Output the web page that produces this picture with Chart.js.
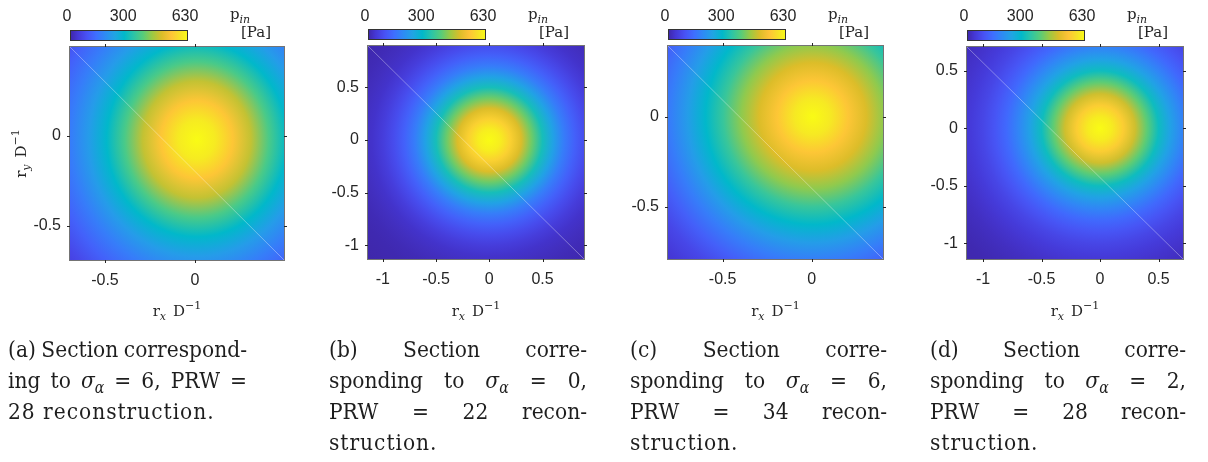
<!DOCTYPE html>
<html>
<head>
<meta charset="utf-8">
<script src="https://cdn.jsdelivr.net/npm/chart.js@4.4.0/dist/chart.umd.min.js"></script>
<style>
  body { margin: 0; background: #fff; width: 1208px; height: 462px; position: relative; overflow: hidden; }
  canvas { position: absolute; top: 0; }
</style>
</head>
<body>
<script>
// colour scale of the inlet pressure [Pa]
const pMax = 630;
const cbTicks = [0, 300, 630];

// radial distance from the jet centre, r / D
const radii = [0, 0.1, 0.2, 0.3, 0.4, 0.5, 0.6, 0.7, 0.8, 0.9, 1.0, 1.1, 1.2, 1.3, 1.4, 1.5, 1.6, 1.7];

// inlet pressure along the radius for each reconstruction [Pa]
const pA = [630, 604, 545, 470, 375, 290, 222, 165, 115, 72, 42, 26, 16, 10, 6, 4, 2, 1];
const pB = [630, 608, 560, 490, 405, 315, 235, 165, 115, 78, 50, 31, 20, 12, 7, 4, 2, 1];
const pC = [630, 600, 545, 490, 430, 355, 290, 225, 165, 112, 70, 44, 28, 17, 10, 6, 3, 2];
const pD = [630, 605, 555, 480, 395, 305, 235, 178, 130, 95, 68, 48, 33, 22, 14, 8, 4, 2];

// pressure peak position (r_x, r_y) / D and vertical elongation of the spot
const centreA = [0.01, -0.02], stretchA = 1.08;
const centreB = [0, 0],        stretchB = 1;
const centreC = [0.005, 0],    stretchC = 1;
const centreD = [0, 0],        stretchD = 1;

// axis limits
const xRangeA = [-0.694, 0.494], yRangeA = [-0.689, 0.494];
const xRangeB = [-1.14, 0.89],   yRangeB = [-1.13, 0.893];
const xRangeC = [-0.806, 0.399], yRangeC = [-0.792, 0.393];
const xRangeD = [-1.137, 0.709], yRangeD = [-1.135, 0.707];

// tick labels
const xTicksA = [-0.5, 0],          yTicksA = [-0.5, 0];
const xTicksB = [-1, -0.5, 0, 0.5], yTicksB = [-1, -0.5, 0, 0.5];
const xTicksC = [-0.5, 0],          yTicksC = [-0.5, 0];
const xTicksD = [-1, -0.5, 0, 0.5], yTicksD = [-1, -0.5, 0, 0.5];

// sub-figure captions, one entry per typeset line
const capA = ["(a) Section correspond-", "ing to σα = 6, PRW =", "28 reconstruction."];
const capB = ["(b) Section corre-", "sponding to σα = 0,", "PRW = 22 recon-", "struction."];
const capC = ["(c) Section corre-", "sponding to σα = 6,", "PRW = 34 recon-", "struction."];
const capD = ["(d) Section corre-", "sponding to σα = 2,", "PRW = 28 recon-", "struction."];

// parula
const parulaStops = [
  [0.000, 62, 38, 168], [0.063, 69, 55, 213], [0.143, 72, 82, 244], [0.222, 62, 111, 255],
  [0.302, 45, 140, 243], [0.381, 32, 165, 227], [0.460, 1, 184, 202], [0.540, 44, 196, 167],
  [0.619, 87, 204, 122], [0.698, 157, 201, 67], [0.778, 220, 189, 41], [0.857, 254, 195, 56],
  [0.937, 245, 227, 39], [1.000, 249, 251, 21]
];

function parula(t) {
  t = Math.max(0, Math.min(1, t));
  for (let i = 1; i < parulaStops.length; i++) {
    const a = parulaStops[i - 1], b = parulaStops[i];
    if (t <= b[0]) {
      const u = (t - a[0]) / (b[0] - a[0]);
      const c = [1, 2, 3].map(k => Math.round(a[k] + u * (b[k] - a[k])));
      return `rgb(${c[0]},${c[1]},${c[2]})`;
    }
  }
  return "rgb(249,251,21)";
}

// plot box of every panel on the page: left, right, top, bottom
const panels = [
  { p: pA, centre: centreA, stretch: stretchA, xr: xRangeA, yr: yRangeA, xt: xTicksA, yt: yTicksA, cap: capA, box: [70, 284, 47, 260], capX: 8, capW: 239, yTitle: true },
  { p: pB, centre: centreB, stretch: stretchB, xr: xRangeB, yr: yRangeB, xt: xTicksB, yt: yTicksB, cap: capB, box: [368, 584, 46, 259], capX: 329, capW: 258 },
  { p: pC, centre: centreC, stretch: stretchC, xr: xRangeC, yr: yRangeC, xt: xTicksC, yt: yTicksC, cap: capC, box: [668, 883, 46, 259], capX: 630, capW: 257 },
  { p: pD, centre: centreD, stretch: stretchD, xr: xRangeD, yr: yRangeD, xt: xTicksD, yt: yTicksD, cap: capD, box: [967, 1183, 47, 259], capX: 930, capW: 256 }
];

const AXIS_W = 64, PAD_R = 24, CANVAS_H = 330;
const INK = "#262626";
const SERIF = '"DejaVu Serif"';

// draws a label made of pieces (sub/superscripts) centred on x
function drawParts(ctx, parts, x, y) {
  let w = 0;
  parts.forEach(p => { ctx.font = p.f; w += ctx.measureText(p.t).width + (p.gap || 0); });
  let cx = x - w / 2;
  parts.forEach(p => {
    ctx.font = p.f;
    ctx.fillText(p.t, cx, y + (p.dy || 0));
    cx += ctx.measureText(p.t).width + (p.gap || 0);
  });
}

function axisTitle(sub) {
  return [
    { t: "r", f: `15px ${SERIF}` },
    { t: sub, f: `italic 11px ${SERIF}`, dy: 4, gap: 7 },
    { t: "D", f: `15px ${SERIF}` },
    { t: "−1", f: `11px ${SERIF}`, dy: -7 }
  ];
}

const pressureMap = {
  id: "pressureMap",
  beforeDatasetsDraw(chart, args, o) {
    const { ctx, chartArea: a, scales: { x, y } } = chart;
    const cx = x.getPixelForValue(o.centre[0]);
    const cy = y.getPixelForValue(o.centre[1]);
    const kx = x.getPixelForValue(1) - x.getPixelForValue(0);
    const ky = y.getPixelForValue(0) - y.getPixelForValue(1);
    const rEnd = radii[radii.length - 1];
    ctx.save();
    ctx.beginPath();
    ctx.rect(a.left, a.top, a.right - a.left, a.bottom - a.top);
    ctx.clip();
    ctx.translate(cx, cy);
    ctx.scale(1, ky / kx * o.stretch);
    const g = ctx.createRadialGradient(0, 0, 0, 0, 0, rEnd * kx);
    radii.forEach((r, i) => g.addColorStop(r / rEnd, parula(o.p[i] / pMax)));
    ctx.fillStyle = g;
    ctx.fillRect(-3000, -3000, 6000, 6000);
    ctx.restore();
  },
  afterDraw(chart, args, o) {
    const { ctx, chartArea: a, scales: { x, y } } = chart;
    ctx.save();

    // axes box with outward ticks on all sides
    ctx.strokeStyle = "rgba(70,70,70,0.75)";
    ctx.lineWidth = 1;
    ctx.strokeRect(a.left - 0.5, a.top - 0.5, a.right - a.left + 1, a.bottom - a.top + 1);
    ctx.strokeStyle = INK;
    ctx.beginPath();
    o.xt.forEach(v => {
      const px = Math.round(x.getPixelForValue(v)) + 0.5;
      ctx.moveTo(px, a.bottom); ctx.lineTo(px, a.bottom + 3);
      ctx.moveTo(px, a.top); ctx.lineTo(px, a.top - 3);
    });
    o.yt.forEach(v => {
      const py = Math.round(y.getPixelForValue(v)) + 0.5;
      ctx.moveTo(a.left - 3, py); ctx.lineTo(a.left, py);
      ctx.moveTo(a.right, py); ctx.lineTo(a.right + 3, py);
    });
    ctx.stroke();

    // colour bar above the map
    const cbX = a.left, cbW = 118, cbY = a.top - 17, cbH = 11;
    const lg = ctx.createLinearGradient(cbX, 0, cbX + cbW, 0);
    parulaStops.forEach(s => lg.addColorStop(s[0], `rgb(${s[1]},${s[2]},${s[3]})`));
    ctx.fillStyle = lg;
    ctx.fillRect(cbX, cbY, cbW, cbH);
    ctx.strokeStyle = "#333";
    ctx.strokeRect(cbX + 0.5, cbY + 0.5, cbW - 1, cbH - 1);

    ctx.fillStyle = INK;
    ctx.font = '16px "Liberation Sans"';
    ctx.textAlign = "center";
    ctx.textBaseline = "alphabetic";
    cbTicks.forEach(v => ctx.fillText(String(v), cbX + v / pMax * cbW - 3, 21));

    ctx.textAlign = "left";
    ctx.font = `15px ${SERIF}`;
    ctx.fillText("p", a.left + 160, 19);
    const pw = ctx.measureText("p").width;
    ctx.font = `italic 11px ${SERIF}`;
    ctx.fillText("in", a.left + 160 + pw, 23);
    ctx.font = `15px ${SERIF}`;
    ctx.fillText("[Pa]", a.left + 171, 37);

    // axis titles
    drawParts(ctx, axisTitle("x"), (a.left + a.right) / 2, 316);
    if (o.yTitle) {
      ctx.translate(a.left - 44, (a.top + a.bottom) / 2);
      ctx.rotate(-Math.PI / 2);
      drawParts(ctx, axisTitle("y"), 0, 0);
    }
    ctx.restore();
  }
};

panels.forEach(pn => {
  const [L, R, T, B] = pn.box;
  const cv = document.createElement("canvas");
  cv.width = AXIS_W + (R - L) + PAD_R;
  cv.height = CANVAS_H;
  cv.style.left = (L - AXIS_W) + "px";
  document.body.appendChild(cv);

  const tickFont = { family: "Liberation Sans", size: 16 };
  new Chart(cv, {
    type: "scatter",
    data: {
      datasets: [{
        // faint seam running corner to corner across the map
        data: [{ x: pn.xr[0], y: pn.yr[1] }, { x: pn.xr[1], y: pn.yr[0] }],
        showLine: true,
        borderColor: "rgba(255,255,255,0.35)",
        borderWidth: 1,
        pointRadius: 0
      }]
    },
    options: {
      responsive: false,
      animation: false,
      events: [],
      layout: { padding: { top: T, right: PAD_R, bottom: 0, left: 0 } },
      plugins: {
        legend: { display: false },
        tooltip: { enabled: false },
        pressureMap: { p: pn.p, centre: pn.centre, stretch: pn.stretch, xt: pn.xt, yt: pn.yt, yTitle: !!pn.yTitle }
      },
      scales: {
        x: {
          type: "linear", min: pn.xr[0], max: pn.xr[1],
          grid: { display: false, drawTicks: false }, border: { display: false },
          afterBuildTicks: s => { s.ticks = pn.xt.map(v => ({ value: v })); },
          afterFit: s => { s.height = CANVAS_H - B; s.paddingLeft = 0; s.paddingRight = 0; },
          ticks: { font: tickFont, color: INK, padding: 11, maxRotation: 0, autoSkip: false, callback: v => String(v) }
        },
        y: {
          type: "linear", min: pn.yr[0], max: pn.yr[1],
          grid: { display: false, drawTicks: false }, border: { display: false },
          afterBuildTicks: s => { s.ticks = pn.yt.map(v => ({ value: v })); },
          afterFit: s => { s.width = AXIS_W; s.paddingTop = 0; s.paddingBottom = 0; },
          ticks: { font: tickFont, color: INK, padding: 9, autoSkip: false, callback: v => String(v) }
        }
      }
    },
    plugins: [pressureMap]
  });
});

// captions: justified lines, last line of each set flush left
const capCanvas = document.createElement("canvas");
capCanvas.width = 1208;
capCanvas.height = 132;
capCanvas.style.top = "330px";
capCanvas.style.left = "0px";
document.body.appendChild(capCanvas);

const CAP_FONT = `23px ${SERIF}`;
const CAP_IT = `italic 23px ${SERIF}`;
const CAP_SUB = `italic 16px ${SERIF}`;
const CAP_SX = 0.88;          // horizontal squeeze of the caption face
const LAST_SPACING = 1.1;

function wordRuns(w) {
  const i = w.indexOf("σα");
  if (i < 0) return [{ t: w, f: CAP_FONT }];
  return [
    { t: w.slice(0, i), f: CAP_FONT },
    { t: "σ", f: CAP_IT },
    { t: "α", f: CAP_SUB, dy: 5 },
    { t: w.slice(i + 2), f: CAP_FONT }
  ].filter(r => r.t);
}

function runsWidth(ctx, runs) {
  return runs.reduce((s, r) => { ctx.font = r.f; return s + ctx.measureText(r.t).width * CAP_SX; }, 0);
}

const cctx = capCanvas.getContext("2d");
cctx.fillStyle = "#1e1e1e";
cctx.textBaseline = "alphabetic";
panels.forEach(pn => {
  pn.cap.forEach((line, li) => {
    const last = li === pn.cap.length - 1;
    cctx.letterSpacing = last ? LAST_SPACING + "px" : "0px";
    const words = line.split(" ").map(wordRuns);
    const widths = words.map(w => runsWidth(cctx, w));
    const total = widths.reduce((s, v) => s + v, 0);
    cctx.font = CAP_FONT;
    const gap = last || words.length < 2
      ? cctx.measureText(" ").width * CAP_SX
      : (pn.capW - total) / (words.length - 1);
    const y = 27 + li * 31;
    let x = pn.capX;
    words.forEach(runs => {
      runs.forEach(r => {
        cctx.font = r.f;
        cctx.save();
        cctx.translate(x, y + (r.dy || 0));
        cctx.scale(CAP_SX, 1);
        cctx.fillText(r.t, 0, 0);
        cctx.restore();
        x += cctx.measureText(r.t).width * CAP_SX;
      });
      x += gap;
    });
  });
});
</script>
</body>
</html>
